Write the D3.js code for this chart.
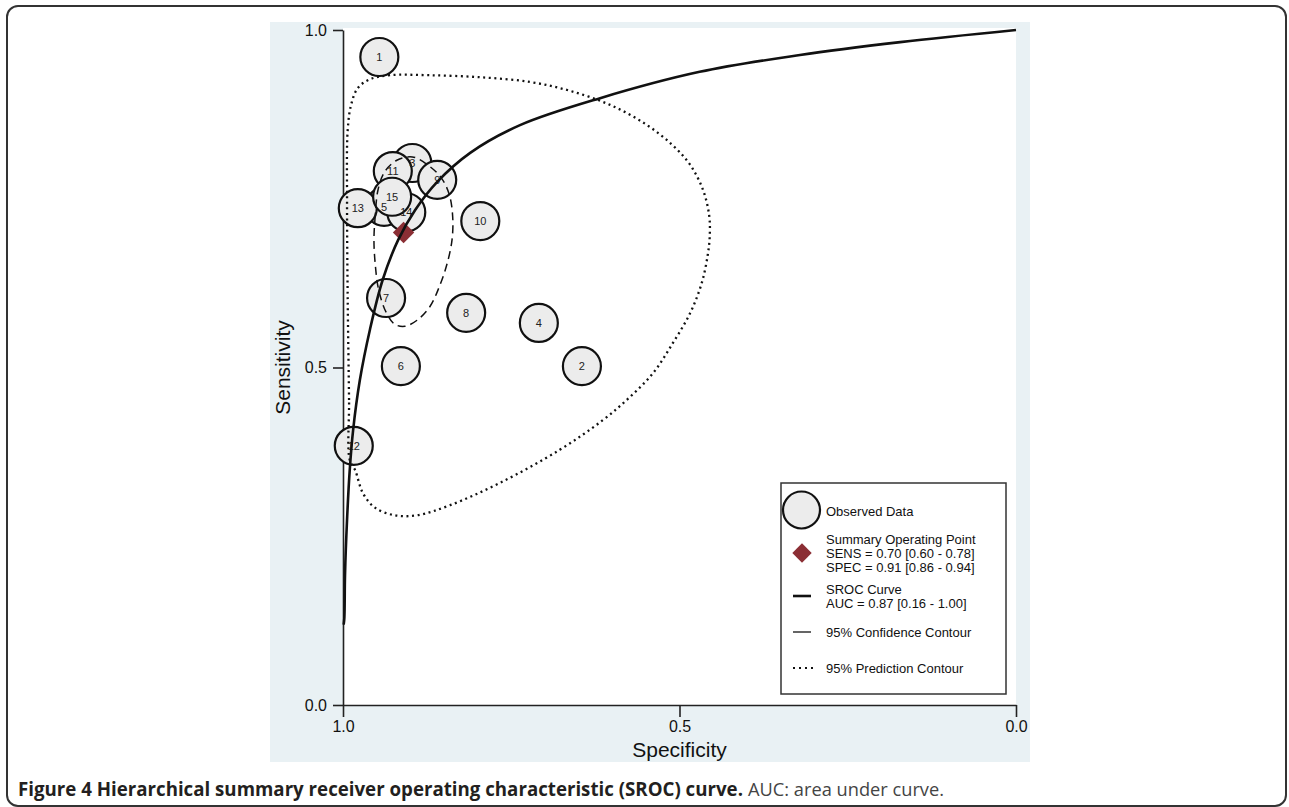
<!DOCTYPE html>
<html lang="en">
<head>
  <meta charset="UTF-8">
  <title>HSROC curve</title>
  <script src="https://d3js.org/d3.v7.min.js"></script>
  <style>
    body { margin: 0; background: #fff; }
    svg text { font-family: "Liberation Sans", Arial, sans-serif; }
    .tick text { font-size: 16px; fill: #111; }
    .tick line, .domain { stroke: #222; stroke-width: 1.6px; }
    .legend text { font-size: 13px; fill: #111; }
  </style>
</head>
<body>
  <script>
    // study points
    const studyIds  = [1, 2, 3, 4, 5, 6, 7, 8, 9, 10, 11, 12, 13, 14, 15];
    const studySpec = [0.946, 0.645, 0.897, 0.709, 0.939, 0.914, 0.936, 0.817, 0.860, 0.796, 0.926, 0.984, 0.978, 0.906, 0.927];
    const studySens = [0.960, 0.502, 0.803, 0.566, 0.738, 0.502, 0.603, 0.581, 0.778, 0.717, 0.791, 0.384, 0.736, 0.730, 0.753];

    // summary operating point
    const summarySpec = 0.91, summarySens = 0.70;

    // SROC curve
    const srocSpec = [0.999, 0.998, 0.997, 0.994, 0.990, 0.985, 0.975, 0.960, 0.941, 0.918, 0.893, 0.860, 0.811, 0.737, 0.618, 0.470, 0.321, 0.172, 0.0];
    const srocSens = [0.119, 0.129, 0.193, 0.274, 0.348, 0.407, 0.481, 0.556, 0.630, 0.689, 0.733, 0.775, 0.818, 0.859, 0.899, 0.938, 0.963, 0.982, 1.0];

    // 95% confidence contour
    const confSpec = [0.948, 0.952, 0.954, 0.952, 0.947, 0.936, 0.923, 0.908, 0.890, 0.871, 0.856, 0.845, 0.838, 0.837, 0.842, 0.854, 0.874, 0.897, 0.920, 0.938];
    const confSens = [0.763, 0.726, 0.689, 0.652, 0.615, 0.582, 0.564, 0.561, 0.570, 0.590, 0.622, 0.655, 0.689, 0.723, 0.756, 0.781, 0.800, 0.812, 0.807, 0.790];

    // 95% prediction contour
    const predSpec = [0.990, 0.991, 0.993, 0.994, 0.993, 0.988, 0.978, 0.960, 0.930, 0.871, 0.796, 0.722, 0.663, 0.603, 0.551, 0.511, 0.484, 0.465, 0.456, 0.455,
                      0.458, 0.467, 0.484, 0.510, 0.539, 0.574, 0.614, 0.678, 0.767, 0.841, 0.890, 0.923, 0.952, 0.970, 0.982];
    const predSens = [0.363, 0.452, 0.600, 0.748, 0.852, 0.889, 0.914, 0.927, 0.933, 0.933, 0.930, 0.923, 0.910, 0.889, 0.861, 0.830, 0.800, 0.763, 0.726, 0.696,
                      0.667, 0.625, 0.581, 0.536, 0.492, 0.456, 0.422, 0.378, 0.329, 0.296, 0.281, 0.281, 0.292, 0.313, 0.348];

    const tickValues = [0, 0.5, 1];

    const svg = d3.select("body").append("svg")
      .attr("width", 1289)
      .attr("height", 807);

    // page frame
    svg.append("rect")
      .attr("x", 7).attr("y", 6)
      .attr("width", 1279).attr("height", 800)
      .attr("rx", 11)
      .attr("fill", "none")
      .attr("stroke", "#333")
      .attr("stroke-width", 2);

    // graph background
    svg.append("rect")
      .attr("x", 270).attr("y", 22)
      .attr("width", 760).attr("height", 740)
      .attr("fill", "#e9f1f4");

    const x = d3.scaleLinear().domain([1, 0]).range([343, 1016]);
    const y = d3.scaleLinear().domain([0, 1]).range([705, 30]);

    svg.append("rect")
      .attr("x", x(1)).attr("y", y(1) - 2)
      .attr("width", x(0) - x(1)).attr("height", y(0) - y(1) + 2)
      .attr("fill", "#fff");

    // axes
    svg.append("g")
      .attr("transform", `translate(${x(1)},0)`)
      .call(d3.axisLeft(y).tickValues(tickValues).tickFormat(d3.format(".1f")).tickSize(10).tickSizeOuter(0).tickPadding(6));

    svg.append("g")
      .attr("transform", `translate(0,${y(0)})`)
      .call(d3.axisBottom(x).tickValues(tickValues).tickFormat(d3.format(".1f")).tickSize(12).tickSizeOuter(0).tickPadding(4));

    svg.append("text")
      .attr("x", x(0.5)).attr("y", 757)
      .attr("text-anchor", "middle")
      .attr("font-size", 21)
      .attr("fill", "#111")
      .text("Specificity");

    svg.append("text")
      .attr("transform", `translate(290,${y(0.5)}) rotate(-90)`)
      .attr("text-anchor", "middle")
      .attr("font-size", 21)
      .attr("fill", "#111")
      .text("Sensitivity");

    // observed data
    const studies = studyIds.map((id, i) => ({ id, spec: studySpec[i], sens: studySens[i] }));

    svg.append("g").selectAll("circle")
      .data(studies)
      .enter().append("circle")
      .attr("cx", d => x(d.spec))
      .attr("cy", d => y(d.sens))
      .attr("r", 19)
      .attr("fill", "#ececec")
      .attr("stroke", "#111")
      .attr("stroke-width", 2.2);

    svg.append("g").selectAll("text")
      .data(studies)
      .enter().append("text")
      .attr("x", d => x(d.spec))
      .attr("y", d => y(d.sens))
      .attr("dy", "0.35em")
      .attr("text-anchor", "middle")
      .attr("font-size", 11)
      .attr("fill", "#222")
      .text(d => d.id);

    // summary point
    svg.append("path")
      .attr("d", d3.symbol().type(d3.symbolDiamond2).size(290)())
      .attr("transform", `translate(${x(summarySpec)},${y(summarySens)})`)
      .attr("fill", "#8b2e34");

    const toPts = (a, b) => a.map((v, i) => [x(v), y(b[i])]);

    svg.append("path")
      .attr("d", d3.line().curve(d3.curveCatmullRomClosed)(toPts(predSpec, predSens)))
      .attr("fill", "none")
      .attr("stroke", "#111")
      .attr("stroke-width", 2.3)
      .attr("stroke-dasharray", "2,3.6");

    svg.append("path")
      .attr("d", d3.line().curve(d3.curveCatmullRomClosed)(toPts(confSpec, confSens)))
      .attr("fill", "none")
      .attr("stroke", "#111")
      .attr("stroke-width", 1.5)
      .attr("stroke-dasharray", "8,5");

    svg.append("path")
      .attr("d", d3.line().curve(d3.curveCatmullRom)(toPts(srocSpec, srocSens)))
      .attr("fill", "none")
      .attr("stroke", "#111")
      .attr("stroke-width", 2.6);

    // legend
    const lg = svg.append("g").attr("class", "legend");
    lg.append("rect")
      .attr("x", 781).attr("y", 483)
      .attr("width", 225).attr("height", 211)
      .attr("fill", "#fff")
      .attr("stroke", "#333")
      .attr("stroke-width", 1.5);

    lg.append("circle")
      .attr("cx", 801.5).attr("cy", 510).attr("r", 18.5)
      .attr("fill", "#ececec").attr("stroke", "#111").attr("stroke-width", 2.2);

    lg.append("path")
      .attr("d", d3.symbol().type(d3.symbolDiamond2).size(240)())
      .attr("transform", "translate(802,553)")
      .attr("fill", "#8b2e34");

    lg.append("line").attr("x1", 793).attr("x2", 811).attr("y1", 596).attr("y2", 596)
      .attr("stroke", "#111").attr("stroke-width", 2.6);
    lg.append("line").attr("x1", 793).attr("x2", 811).attr("y1", 632).attr("y2", 632)
      .attr("stroke", "#111").attr("stroke-width", 1.3);
    lg.append("line").attr("x1", 793).attr("x2", 813).attr("y1", 668).attr("y2", 668)
      .attr("stroke", "#111").attr("stroke-width", 2).attr("stroke-dasharray", "2,4");

    const legendLines = [
      ["Observed Data", 511],
      ["Summary Operating Point", 539],
      ["SENS = 0.70 [0.60 - 0.78]", 553],
      ["SPEC = 0.91 [0.86 - 0.94]", 567],
      ["SROC Curve", 589],
      ["AUC = 0.87 [0.16 - 1.00]", 603],
      ["95% Confidence Contour", 632],
      ["95% Prediction Contour", 668]
    ];
    lg.selectAll("text.item")
      .data(legendLines)
      .enter().append("text")
      .attr("class", "item")
      .attr("x", 826)
      .attr("y", d => d[1])
      .attr("dy", "0.35em")
      .text(d => d[0]);

    // caption
    svg.append("text")
      .attr("x", 18).attr("y", 796)
      .attr("font-size", 19)
      .attr("font-weight", "bold")
      .attr("fill", "#231f20")
      .attr("textLength", 725)
      .attr("lengthAdjust", "spacingAndGlyphs")
      .style("font-family", "'Open Sans', sans-serif")
      .text("Figure 4 Hierarchical summary receiver operating characteristic (SROC) curve.");

    svg.append("text")
      .attr("x", 748).attr("y", 796)
      .attr("font-size", 19)
      .attr("fill", "#444")
      .attr("textLength", 196)
      .attr("lengthAdjust", "spacingAndGlyphs")
      .style("font-family", "'Open Sans', sans-serif")
      .text("AUC: area under curve.");
  </script>
</body>
</html>
